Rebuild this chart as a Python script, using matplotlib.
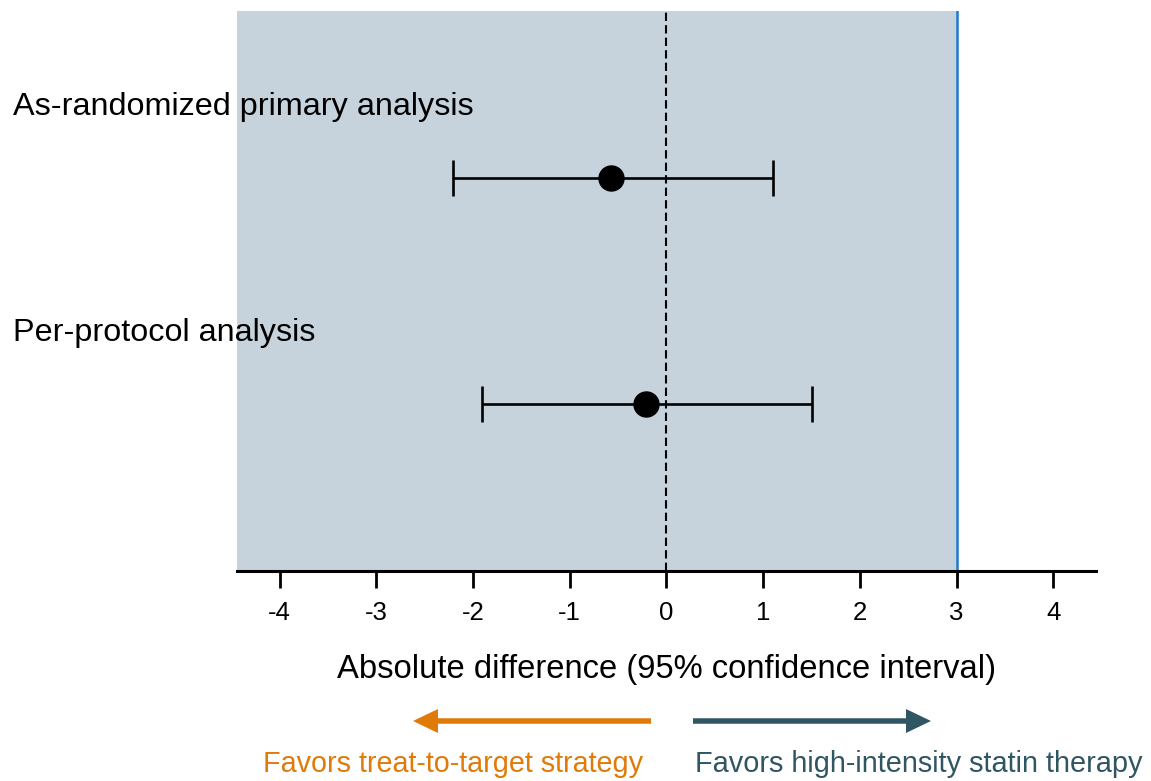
import matplotlib.pyplot as plt

plt.rcParams['font.family'] = ['Liberation Sans', 'DejaVu Sans']

analyses = ["As-randomized primary analysis", "Per-protocol analysis"]
estimates = [-0.57, -0.21]
ci_low = [-2.21, -1.91]
ci_high = [1.10, 1.50]
xticks = [-4, -3, -2, -1, 0, 1, 2, 3, 4]
margin_limit = 3

shade = "#C6D3DD"
orange = "#E07B0A"
teal = "#2F5662"

fig = plt.figure(figsize=(11.51, 7.81), dpi=100)
ax = fig.add_axes([0.2059, 0.2689, 0.7463, 0.7170])

ax.set_xlim(-4.44, 4.44)
ax.set_ylim(0.261, 2.739)

# shaded non-inferiority region
ax.axvspan(-4.44, margin_limit, color=shade, zorder=0, lw=0)
ax.axvline(margin_limit, color="#1F7BC8", lw=1.8, zorder=1)
ax.axvline(0, color="black", ls=(0, (4, 2)), lw=1.5, zorder=2)

ypos = [2, 1]
for y, est, lo, hi, name in zip(ypos, estimates, ci_low, ci_high, analyses):
    ax.errorbar(est, y, xerr=[[est - lo], [hi - est]], fmt="o", color="black",
                ms=18, capsize=13, elinewidth=1.9, capthick=1.9, zorder=3)
    ax.text(-4.44 - 225 / 97, y + 0.315, name, fontsize=23.3,
            ha="left", va="center", zorder=4)

for s in ["top", "right", "left"]:
    ax.spines[s].set_visible(False)
ax.spines["bottom"].set_linewidth(2.2)
ax.set_yticks([])
ax.set_xticks(xticks)
ax.set_xticklabels([str(v) for v in xticks], fontsize=18.5)
ax.tick_params(axis="x", direction="out", length=12.5, width=2, pad=9)
ax.set_xlabel("Absolute difference (95% confidence interval)", fontsize=23.6,
              labelpad=21)

# direction arrows, drawn in pixel coordinates
ax_a = fig.add_axes([0, 0, 1, 1], facecolor="none")
ax_a.set_axis_off()
ax_a.set_xlim(0, 1151)
ax_a.set_ylim(781, 0)
ax_a.arrow(651, 721, -238, 0, width=5.5, head_width=24, head_length=25,
           length_includes_head=True, color=orange, lw=0)
ax_a.arrow(693, 721, 238, 0, width=5.5, head_width=24, head_length=25,
           length_includes_head=True, color=teal, lw=0)
ax_a.text(643, 764, "Favors treat-to-target strategy", color=orange,
          fontsize=20.7, ha="right", va="center")
ax_a.text(695, 764, "Favors high-intensity statin therapy", color=teal,
          fontsize=20.8, ha="left", va="center")

fig.savefig("out.png", dpi=100)
